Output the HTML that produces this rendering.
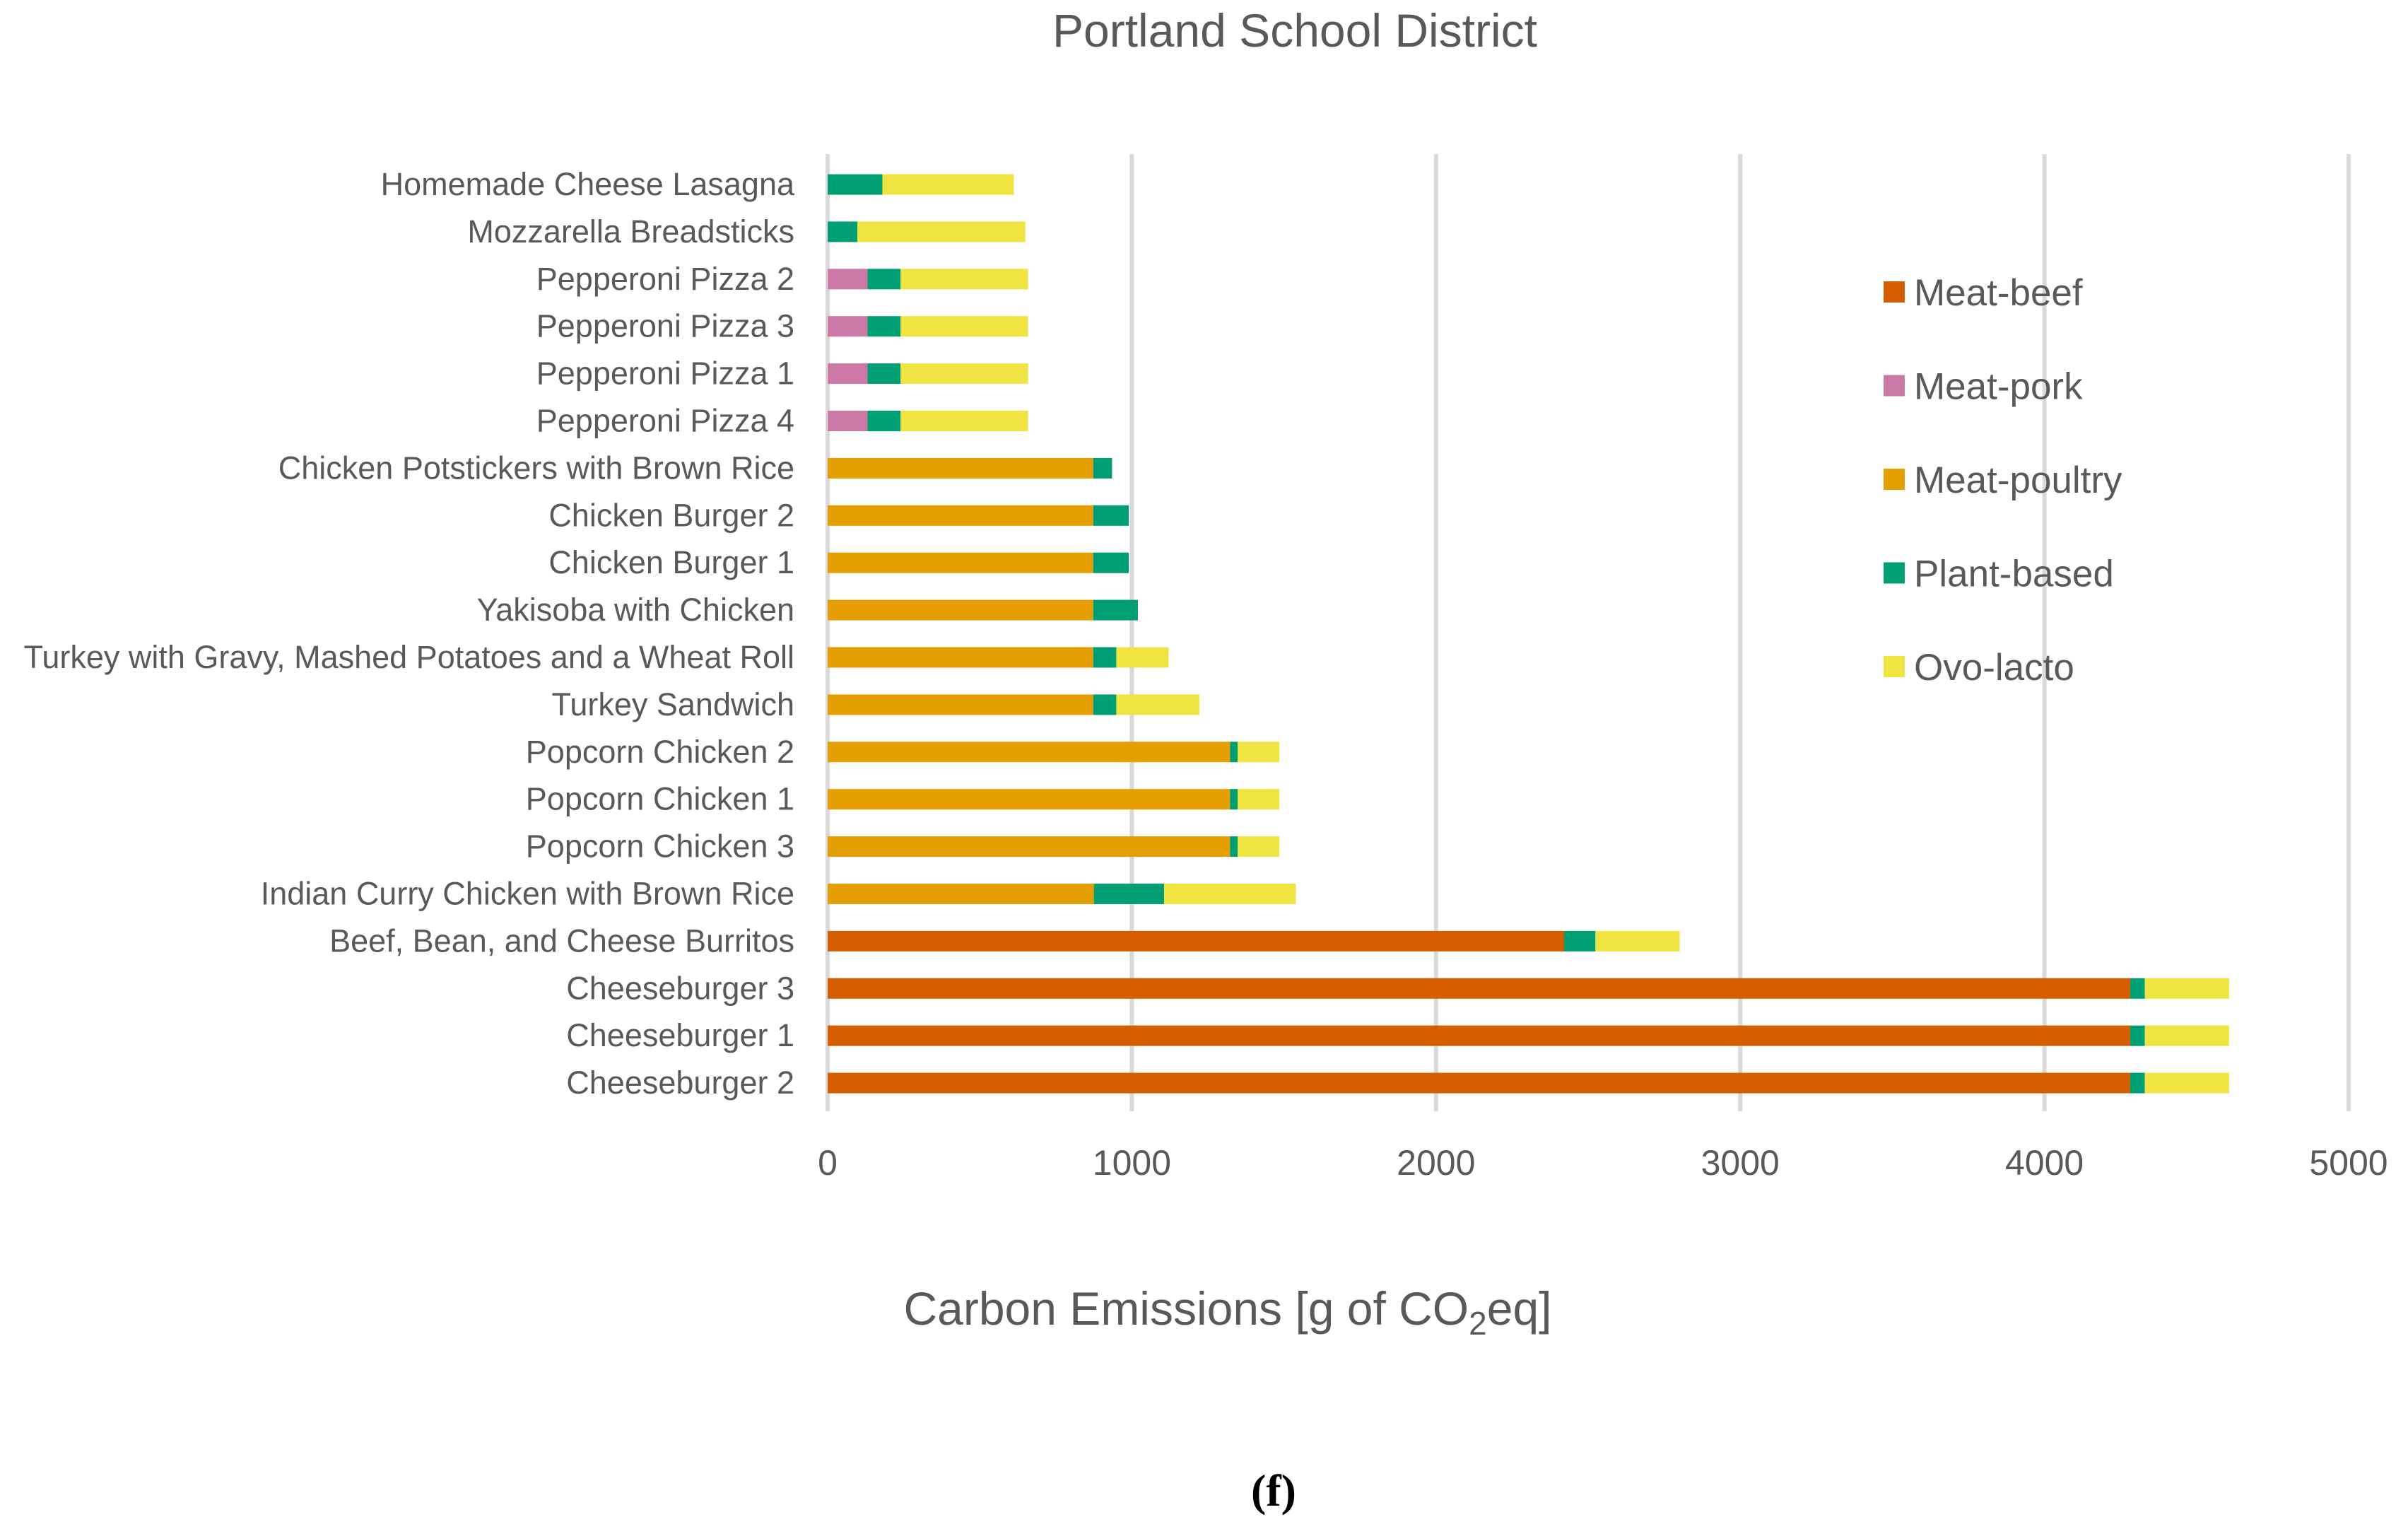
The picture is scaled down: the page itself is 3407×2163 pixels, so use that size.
<!DOCTYPE html>
<html><head><meta charset="utf-8"><style>
html,body{margin:0;padding:0;background:#fff;}
svg{display:block;font-family:"Liberation Sans",sans-serif;}
</style></head><body>
<svg id="chart" width="3407" height="2163" viewBox="0 0 3407 2163" xmlns="http://www.w3.org/2000/svg">
<rect width="3407" height="2163" fill="#fff"/>
<text x="1832" y="66" font-size="66" fill="#595959" text-anchor="middle">Portland School District</text>
<g id="grid"></g><g id="bars"></g><g id="ylabels"></g><g id="xticks"></g>
<text x="1737" y="1874" font-size="66" fill="#595959" text-anchor="middle">Carbon Emissions [g of CO<tspan font-size="46" dy="14">2</tspan><tspan dy="-14">eq]</tspan></text>
<text x="1802" y="2130" font-size="64" font-weight="bold" fill="#000" text-anchor="middle" font-family="Liberation Serif, serif">(f)</text>
<g id="legend"></g>
</svg>
<script>
const categories=["Homemade Cheese Lasagna","Mozzarella Breadsticks","Pepperoni Pizza 2","Pepperoni Pizza 3","Pepperoni Pizza 1","Pepperoni Pizza 4","Chicken Potstickers with Brown Rice","Chicken Burger 2","Chicken Burger 1","Yakisoba with Chicken","Turkey with Gravy, Mashed Potatoes and a Wheat Roll","Turkey Sandwich","Popcorn Chicken 2","Popcorn Chicken 1","Popcorn Chicken 3","Indian Curry Chicken with Brown Rice","Beef, Bean, and Cheese Burritos","Cheeseburger 3","Cheeseburger 1","Cheeseburger 2"];
const seriesNames=["Meat-beef","Meat-pork","Meat-poultry","Plant-based","Ovo-lacto"];
const seriesColors=["#D55E00","#CC79A7","#E69F00","#009E73","#F0E442"];
const beef=[0,0,0,0,0,0,0,0,0,0,0,0,0,0,0,0,2421,4282,4282,4282];
const pork=[0,0,131,131,131,131,0,0,0,0,0,0,0,0,0,0,0,0,0,0];
const poultry=[0,0,0,0,0,0,873,873,873,873,873,873,1323,1323,1323,875,0,0,0,0];
const plant=[180,98,109,109,109,109,62,117,117,147,76,76,25,25,25,231,103,48,48,48];
const ovo=[432,552,419,419,419,419,0,0,0,0,172,273,137,137,137,433,277,277,277,277];
const xTicks=[0,1000,2000,3000,4000,5000];
const X0=1171,XW=2152,XMAX=5000,Y0=261,PITCH=66.9,BH=29,GT=218,GB=1572;
const xs=v=>X0+v/XMAX*XW;
const yc=i=>Y0+i*PITCH;
const NS="http://www.w3.org/2000/svg";
function mk(tag,attrs,parent){const e=document.createElementNS(NS,tag);for(const k in attrs)e.setAttribute(k,attrs[k]);parent.appendChild(e);return e;}
const grid=document.getElementById('grid'),bars=document.getElementById('bars'),yl=document.getElementById('ylabels'),xt=document.getElementById('xticks'),lg=document.getElementById('legend');
xTicks.forEach(t=>{
  const l=mk('line',{x1:xs(t),x2:xs(t),y1:GT,y2:GB,stroke:'#d9d9d9','stroke-width':6},grid);
  
  
  const tx=mk('text',{x:xs(t),y:1662,'font-size':50,fill:'#595959','text-anchor':'middle'},xt);
  tx.textContent=t;
  
  
});
const series=[beef,pork,poultry,plant,ovo];
categories.forEach((c,i)=>{
  let acc=0;
  series.forEach((s,j)=>{
    const v=s[i]; if(v<=0) return;
    const r=mk('rect',{x:xs(acc),y:yc(i)-BH/2,width:xs(acc+v)-xs(acc),height:BH,fill:seriesColors[j]},bars);
    
    
    acc+=v;
  });
  const t=mk('text',{x:1124,y:yc(i)+15,'font-size':45,fill:'#595959','text-anchor':'end'},yl);
  t.textContent=c;
  
  
});
seriesNames.forEach((n,j)=>{
  const y=413+j*132.5;
  const g=mk('g',{},lg);
  
  
  mk('rect',{x:2665,y:y-15,width:30,height:30,fill:seriesColors[j]},g);
  const t=mk('text',{x:2708,y:y+19,'font-size':53,fill:'#595959'},g);
  t.textContent=n;
});
</script>
</body></html>
